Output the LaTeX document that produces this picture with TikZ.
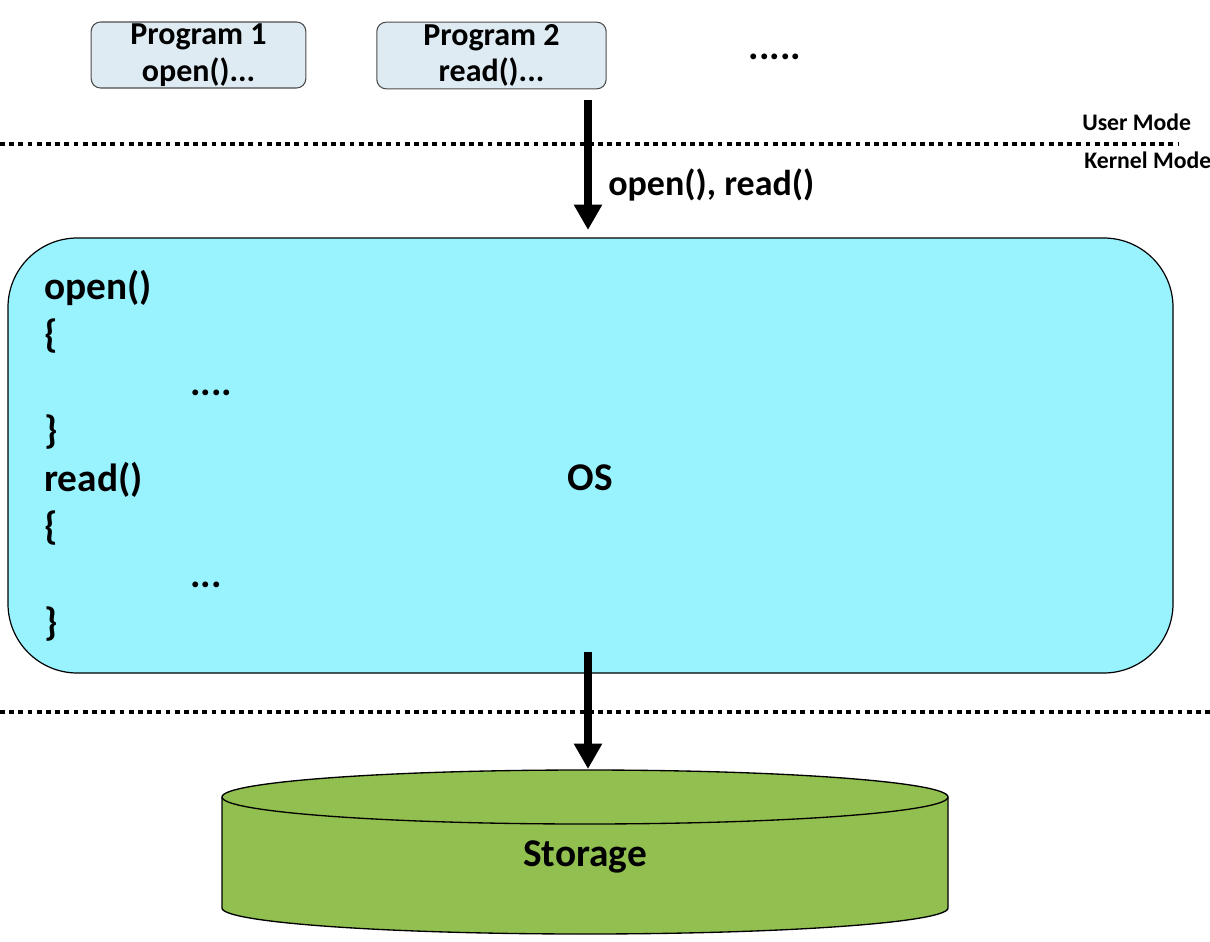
\documentclass[tikz,border=0pt]{standalone}
\usepackage{fontspec}
\setmainfont{Carlito}
\usetikzlibrary{arrows.meta}
\definecolor{progfill}{RGB}{222,235,242}
\definecolor{osfill}{RGB}{153,243,255}
\definecolor{diskfill}{RGB}{146,192,80}
\tikzset{
    prog/.style={draw=black!70,fill=progfill,rounded corners=7pt,line width=0.8pt,
        align=center,font=\fontsize{24}{27.5}\selectfont\bfseries,inner sep=0pt},
    big/.style={font=\fontsize{29.5}{34}\selectfont\bfseries,inner sep=0pt},
    code/.style={big,anchor=base west},
    modetext/.style={font=\fontsize{17.8}{20}\selectfont\bfseries,inner sep=0pt,anchor=base west},
    modeline/.style={line width=3.7pt,dash pattern=on 3.6pt off 3.3pt},
    call/.style={line width=6.6pt,-{Triangle[width=20pt,length=19pt]}}
}

\begin{document}
\begin{tikzpicture}[x=0.75pt,y=-0.75pt]
        \useasboundingbox (0,0) rectangle (1210,942);

        \node[prog,minimum width=161pt,minimum height=49.5pt](prog1)at(198.5,55){Program 1\\open()...};
        \node[prog,minimum width=172pt,minimum height=50pt](prog2)at(491.5,55.5){Program 2\\read()...};
        \node[big,anchor=base](more)at(775,60){.....};

        \draw[modeline](0,144)--(1178,144);
        \node[modetext](user)at(1082,130){User Mode};
        \node[modetext](kernel)at(1084,168){Kernel Mode};

        \node[draw,fill=osfill,line width=0.9pt,rounded corners=52pt,
            minimum width=873.75pt,minimum height=326.25pt](os)at(590.5,455.5){};
        \node[big,anchor=base](oslabel)at(590,490){OS};

        \node[code](l1)at(44,299){open()};
        \node[code](l2)at(44,347){\{};
        \node[code](l3)at(190,395){....};
        \node[code](l4)at(44,443){\}};
        \node[code](l5)at(44,491){read()};
        \node[code](l6)at(44,539){\{};
        \node[code](l7)at(190,587){...};
        \node[code](l8)at(44,635){\}};

        \coordinate(callfrom)at(588,100);
        \coordinate(callto)at(588,230);
        \draw[call](callfrom)--(callto);
        \node[font=\fontsize{27}{32}\selectfont\bfseries,inner sep=0pt,anchor=base west](calls)at(608,195){open(), read()};

        \draw[modeline](0,712)--(1210,712);

        % storage disk
        \draw[fill=diskfill,line width=1pt](222,797)--(222,908)arc[start angle=180,end angle=0,x radius=363,y radius=26]
            --(948,797);
        \draw[fill=diskfill,line width=1pt](585,797)ellipse[x radius=363,y radius=27];
        \coordinate(disktop)at(588,769);
        \node[big,anchor=base](storage)at(585,866){Storage};

        \coordinate(readfrom)at(588,652);
        \draw[call](readfrom)--(disktop);
    \end{tikzpicture}
\end{document}
